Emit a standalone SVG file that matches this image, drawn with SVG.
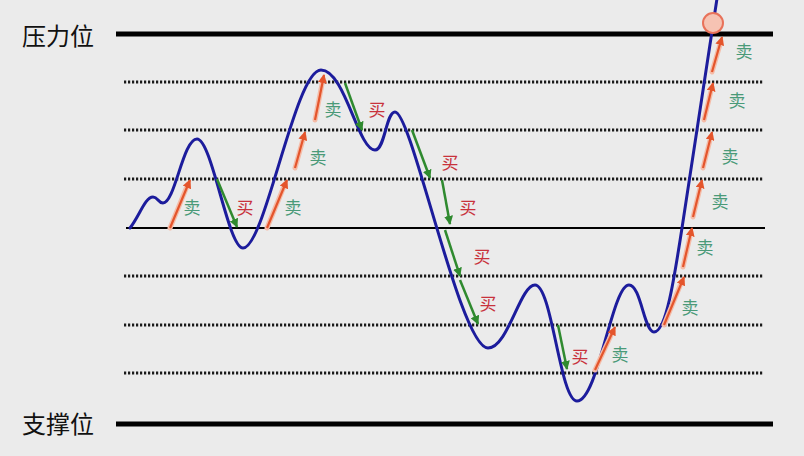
<svg xmlns="http://www.w3.org/2000/svg" width="804" height="456" viewBox="0 0 804 456">
<defs>
<style>
.bg{fill:#ebebeb}
.thick{stroke:#000;stroke-width:5;fill:none}
.mid{stroke:#000;stroke-width:2;fill:none}
.dot{stroke:#1a1a1a;stroke-width:3;stroke-dasharray:2.2 1.8;fill:none}
.curve{stroke:#1c1c9c;stroke-width:3;fill:none;stroke-linecap:round}
.up-halo{stroke:#f5bca8;stroke-width:5;fill:none;stroke-linecap:round}
.up{stroke:#e4552c;stroke-width:2.2;fill:none;marker-end:url(#ah-o)}
.down{stroke:#2f8a2f;stroke-width:2.5;fill:none;marker-end:url(#ah-g)}
.lbl{font-family:"Noto Sans CJK SC","Noto Sans",sans-serif;font-size:24px;fill:#111}
.sell{font-family:"Noto Sans CJK SC","Noto Sans",sans-serif;font-size:17px;fill:#4a9a78;text-anchor:middle}
.buy{font-family:"Noto Sans CJK SC","Noto Sans",sans-serif;font-size:17px;fill:#c8323c;text-anchor:middle}
</style>
<marker id="ah-o" viewBox="0 0 10 10" refX="9" refY="5" markerWidth="9" markerHeight="9" markerUnits="userSpaceOnUse" orient="auto"><path d="M0,0 L10,5 L0,10 z" fill="#e4552c"/></marker>
<marker id="ah-g" viewBox="0 0 10 10" refX="9" refY="5" markerWidth="9" markerHeight="9" markerUnits="userSpaceOnUse" orient="auto"><path d="M0,0 L10,5 L0,10 z" fill="#2f8a2f"/></marker>
</defs>
<rect class="bg" x="0" y="0" width="804" height="456"/>

<g id="levels">
<line class="thick" x1="116" y1="34" x2="773" y2="34"/>
<line class="thick" x1="116" y1="424" x2="773" y2="424"/>
<line class="mid" x1="126" y1="228" x2="765" y2="228"/>
<line class="dot" x1="124" y1="82" x2="764" y2="82"/>
<line class="dot" x1="124" y1="130" x2="764" y2="130"/>
<line class="dot" x1="124" y1="179" x2="764" y2="179"/>
<line class="dot" x1="124" y1="276" x2="764" y2="276"/>
<line class="dot" x1="124" y1="325" x2="764" y2="325"/>
<line class="dot" x1="124" y1="373" x2="764" y2="373"/>
</g>

<g id="label-resistance"><text class="lbl" x="22" y="45">压力位</text></g>
<g id="label-support"><text class="lbl" x="22" y="433">支撑位</text></g>

<g id="price-curve">
<path class="curve" d="M130,228 C140,215 145,197 153,197 C158,197 158,203 163,203 C175,203 183,139 197,139 C212,139 228,248 243,248 C265,248 295,70 321,70 C345,70 358,150 375,150 C385,150 386,112 395,112 C412,112 460,348 488,348 C508,348 520,285 535,285 C552,285 560,401 577,401 C598,401 612,285 629,285 C641,285 644,332 654,332 C666,332 674,280 682,228 L718,-8"/>
</g>

<g id="breakout-point"><circle cx="713" cy="23" r="10" fill="#f6c3b3" stroke="#e8725a" stroke-width="2"/></g>

<g id="connectors">
<g id="sell-arrows">
<path class="up-halo" d="M170,228 L188,184 M267,228 L285,184 M295,168 L304,136 M315,120 L323,79 M595,370 L613,331 M664,325 L682,281 M683,267 L691,232 M693,217 L701,184 M703,168 L711,136 M704,120 L712,87 M712,72 L721,41"/>
<line class="up" x1="170" y1="228" x2="190" y2="180"/>
<line class="up" x1="267" y1="228" x2="287" y2="180"/>
<line class="up" x1="295" y1="168" x2="305" y2="132"/>
<line class="up" x1="315" y1="120" x2="324" y2="75"/>
<line class="up" x1="595" y1="370" x2="615" y2="327"/>
<line class="up" x1="664" y1="325" x2="684" y2="277"/>
<line class="up" x1="683" y1="267" x2="692" y2="228"/>
<line class="up" x1="693" y1="217" x2="702" y2="180"/>
<line class="up" x1="703" y1="168" x2="712" y2="132"/>
<line class="up" x1="704" y1="120" x2="713" y2="83"/>
<line class="up" x1="712" y1="72" x2="722" y2="37"/>
</g>
<g id="buy-arrows">
<line class="down" x1="217" y1="179" x2="237" y2="227"/>
<line class="down" x1="345" y1="83" x2="362" y2="130"/>
<line class="down" x1="412" y1="130" x2="430" y2="178"/>
<line class="down" x1="442" y1="180" x2="450" y2="224"/>
<line class="down" x1="445" y1="230" x2="460" y2="276"/>
<line class="down" x1="460" y1="280" x2="478" y2="324"/>
<line class="down" x1="558" y1="325" x2="567" y2="369"/>
</g>
</g>

<g id="sell-labels">
<text class="sell" x="192" y="214">卖</text>
<text class="sell" x="293" y="214">卖</text>
<text class="sell" x="318" y="164">卖</text>
<text class="sell" x="333" y="116">卖</text>
<text class="sell" x="620" y="361">卖</text>
<text class="sell" x="690" y="314">卖</text>
<text class="sell" x="705" y="254">卖</text>
<text class="sell" x="720" y="208">卖</text>
<text class="sell" x="730" y="163">卖</text>
<text class="sell" x="737" y="107">卖</text>
<text class="sell" x="744" y="58">卖</text>
</g>
<g id="buy-labels">
<text class="buy" x="245" y="214">买</text>
<text class="buy" x="377" y="116">买</text>
<text class="buy" x="450" y="169">买</text>
<text class="buy" x="468" y="214">买</text>
<text class="buy" x="482" y="263">买</text>
<text class="buy" x="488" y="310">买</text>
<text class="buy" x="580" y="363">买</text>
</g>
</svg>
